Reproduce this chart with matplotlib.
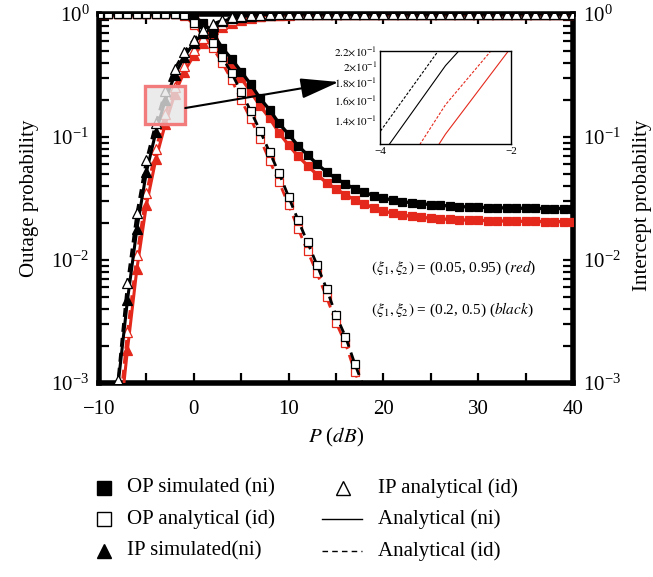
import matplotlib
matplotlib.use("Agg")
import matplotlib.pyplot as plt
from matplotlib.patches import Rectangle
from matplotlib.ticker import FixedLocator, FixedFormatter, NullLocator, LogLocator

plt.rcParams['font.family'] = ['Liberation Serif', 'DejaVu Serif']
plt.rcParams['mathtext.fontset'] = 'stix'

RED = '#e4291c'
BLACK = '#000000'

# transmit power grid (dB)
p_op = list(range(-10, 41))
p_op_id = list(range(-10, 20))
p_ip = list(range(-9, 41))

# outage probability, non-ideal (simulated markers + analytical solid line)
op_ni_black = [1.0, 1.0, 1.0, 1.0, 1.0, 1.0, 1.0, 1.0, 1.0, 0.99, 0.95, 0.85, 0.70, 0.53,
               0.43, 0.34, 0.268, 0.206, 0.166, 0.129, 0.105, 0.085, 0.0714, 0.0603, 0.052,
               0.046, 0.0415, 0.0378, 0.0355, 0.0333, 0.0318, 0.0307, 0.0298, 0.0292, 0.0287,
               0.0282, 0.0278, 0.0275, 0.0272, 0.0270, 0.0268, 0.0267, 0.0266, 0.0265, 0.0264,
               0.0263, 0.0263, 0.0262, 0.0262, 0.0262, 0.0262]
op_ni_red = [1.0, 1.0, 1.0, 1.0, 1.0, 1.0, 1.0, 1.0, 1.0, 0.98, 0.92, 0.80, 0.64, 0.49,
             0.373, 0.30, 0.233, 0.179, 0.142, 0.108, 0.086, 0.070, 0.0585, 0.0494, 0.0425,
             0.0378, 0.0339, 0.0308, 0.0285, 0.0265, 0.0250, 0.0240, 0.0232, 0.0226, 0.0222,
             0.0219, 0.0216, 0.0214, 0.0212, 0.0211, 0.0210, 0.0209, 0.0208, 0.0207, 0.0207,
             0.0206, 0.0206, 0.0205, 0.0205, 0.0205, 0.0205]

# outage probability, ideal (analytical markers + dashed line)
op_id_black = [1.0, 1.0, 1.0, 1.0, 1.0, 1.0, 1.0, 1.0, 1.0, 0.98, 0.85, 0.72, 0.585, 0.445,
               0.33, 0.232, 0.163, 0.112, 0.075, 0.0507, 0.0327, 0.0211, 0.0139, 0.0091,
               0.00585, 0.00355, 0.00238, 0.00142, 0.0009, 0.00056]
op_id_red = [1.0, 1.0, 1.0, 1.0, 1.0, 1.0, 1.0, 1.0, 1.0, 0.97, 0.82, 0.67, 0.53, 0.40,
             0.29, 0.20, 0.14, 0.097, 0.064, 0.043, 0.028, 0.018, 0.0118, 0.0078,
             0.0050, 0.0031, 0.0021, 0.00122, 0.00078, 0.0005]

# intercept probability, non-ideal
ip_ni_black = [8e-5, 9.5e-4, 4.7e-3, 0.018, 0.052, 0.11, 0.20, 0.32, 0.45, 0.58, 0.70, 0.80,
               0.87, 0.92, 0.95, 0.97, 0.982, 0.99, 0.994, 0.997, 0.998] + [1.0] * 29
ip_ni_red = [3e-5, 3.5e-4, 1.86e-3, 8.5e-3, 0.028, 0.066, 0.128, 0.225, 0.34, 0.46, 0.58,
             0.69, 0.78, 0.85, 0.90, 0.935, 0.96, 0.975, 0.985, 0.99, 0.994, 0.997] + [1.0] * 28

# intercept probability, ideal
ip_id_black = [1.2e-4, 1.05e-3, 6.5e-3, 0.024, 0.065, 0.13, 0.235, 0.36, 0.49, 0.62, 0.74,
               0.83, 0.89, 0.94, 0.965, 0.98, 0.988, 0.993, 0.996, 0.998] + [1.0] * 30
ip_id_red = [5e-5, 4.5e-4, 2.6e-3, 0.011, 0.035, 0.08, 0.155, 0.257, 0.38, 0.51, 0.64,
             0.75, 0.83, 0.89, 0.93, 0.955, 0.972, 0.983, 0.99, 0.994, 0.997] + [1.0] * 29

legend_labels = ["OP simulated (ni)", "OP analytical (id)", "IP simulated(ni)",
                 "IP analytical (id)", "Analytical (ni)", "Analytical (id)"]
x_ticks = [-10, 0, 10, 20, 30, 40]

fig = plt.figure(figsize=(6.53, 5.77), dpi=100)
ax = fig.add_axes([99 / 653, 194 / 577, 474 / 653, 369 / 577])

DASH = (0, (3.2, 2.2))
MS_SQ = 5.8
MS_TR = 6.6


def draw(x, y, color, marker, filled, ls, lw, z):
    ax.plot(x, y, color=color, ls=ls, lw=lw, zorder=z)
    ax.plot(x, y, ls='none', marker=marker, ms=MS_SQ if marker == 's' else MS_TR,
            mfc=color if filled else 'white', mec=color, mew=0.9, zorder=z + 0.5)


draw(p_op, op_ni_red, RED, 's', True, '-', 2.4, 3)
draw(p_op, op_ni_black, BLACK, 's', True, '-', 2.4, 4)
draw(p_op_id, op_id_red, RED, 's', False, DASH, 2.0, 3)
draw(p_op_id, op_id_black, BLACK, 's', False, DASH, 2.0, 4)
draw(p_ip, ip_ni_red, RED, '^', True, '-', 2.2, 3)
draw(p_ip, ip_id_red, RED, '^', False, DASH, 2.0, 3)
draw(p_ip, ip_ni_black, BLACK, '^', True, '-', 2.2, 4)
draw(p_ip, ip_id_black, BLACK, '^', False, DASH, 2.0, 4)

ax.set_yscale('log')
ax.set_xlim(-10, 40)
ax.set_ylim(1e-3, 1)
ax.set_xticks(x_ticks)
ax.set_xticks([-5, 5, 15, 25, 35], minor=True)
ax.yaxis.set_minor_locator(LogLocator(base=10, subs=range(2, 10)))
for s in ax.spines.values():
    s.set_linewidth(4)
ax.tick_params(which='both', direction='in', top=True, right=True, length=7, width=1.6,
               labelsize=15)
ax.tick_params(axis='y', which='both', labelright=True, pad=7)
ax.tick_params(axis='x', which='both', pad=12)
ax.set_xlabel('$P$ ($dB$)', fontsize=15, labelpad=5)
ax.set_ylabel('Outage probability', fontsize=15, labelpad=9)
fig.text(642 / 653, 1 - 205 / 577, 'Intercept probability', fontsize=15, rotation=90,
         ha='center', va='center')

# highlighted zoom region and pointer
ax.add_patch(Rectangle((-5.1, 0.128), 4.2, 0.132, facecolor=(0.9, 0.9, 0.9, 0.8),
                       edgecolor='#f27c7c', lw=2.4, zorder=8))
ax.annotate('', xy=(15.3, 0.28), xytext=(-0.9, 0.172),
            arrowprops=dict(arrowstyle='-|>,head_length=1.7,head_width=0.45',
                            mutation_scale=14, lw=1.5, color='black', shrinkA=0, shrinkB=0),
            zorder=9)

ax.text(18.7, 8.6e-3, r'$(\xi_1, \xi_2)$ = (0.05, 0.95) ($red$)', fontsize=11, va='center')
ax.text(18.7, 3.9e-3, r'$(\xi_1, \xi_2)$ = (0.2, 0.5) ($black$)', fontsize=11, va='center')

# inset: magnified intercept curves
ins = fig.add_axes([380 / 653, (577 - 144) / 577, 131 / 653, 93 / 577])
ins.set_zorder(10)
ins.plot(p_ip, ip_id_black, color=BLACK, ls=(0, (2.5, 1.5)), lw=0.8)
ins.plot(p_ip, ip_ni_black, color=BLACK, ls='-', lw=0.8)
ins.plot(p_ip, ip_id_red, color=RED, ls=(0, (2.5, 1.5)), lw=0.8)
ins.plot(p_ip, ip_ni_red, color=RED, ls='-', lw=0.8)
ins.set_yscale('log')
ins.set_xlim(-4, -2)
ins.set_ylim(0.12, 0.22)
ins.xaxis.set_major_locator(FixedLocator([-4, -2]))
ins.xaxis.set_major_formatter(FixedFormatter(['\u22124', '\u22122']))
ins.yaxis.set_major_locator(FixedLocator([0.14, 0.16, 0.18, 0.20, 0.22]))
ins.yaxis.set_major_formatter(FixedFormatter([r'$1.4{\times}10^{-1}$', r'$1.6{\times}10^{-1}$',
                                              r'$1.8{\times}10^{-1}$', r'$2{\times}10^{-1}$',
                                              r'$2.2{\times}10^{-1}$']))
ins.yaxis.set_minor_locator(NullLocator())
ins.tick_params(length=0, labelsize=8, pad=2)
for s in ins.spines.values():
    s.set_linewidth(1.0)

# legend below the axes, laid out in pixel coordinates
lax = fig.add_axes([0, 0, 1, 1], zorder=-1)
lax.set_xlim(0, 653)
lax.set_ylim(577, 0)
lax.axis('off')
rows = [488, 519, 551]
handles_left = [dict(marker='s', mfc='black', ms=9.5), dict(marker='s', mfc='white', ms=9.5),
                dict(marker='^', mfc='black', ms=10.5)]
for (h, y, lab) in zip(handles_left, rows, legend_labels[:3]):
    lax.plot([104], [y], ls='none', mec='black', mew=1.0, **h)
    lax.text(127, y, lab, fontsize=15, va='center', ha='left')
lax.plot([343], [rows[0]], ls='none', marker='^', mfc='white', mec='black', mew=1.0, ms=10.5)
lax.plot([322, 362], [rows[1], rows[1]], color='black', lw=1.0)
lax.plot([322, 362], [rows[2], rows[2]], color='black', lw=1.0, ls=(0, (4, 3)))
for y, lab in zip(rows, legend_labels[3:]):
    lax.text(378, y, lab, fontsize=15, va='center', ha='left')

fig.savefig('out.png', dpi=100)
